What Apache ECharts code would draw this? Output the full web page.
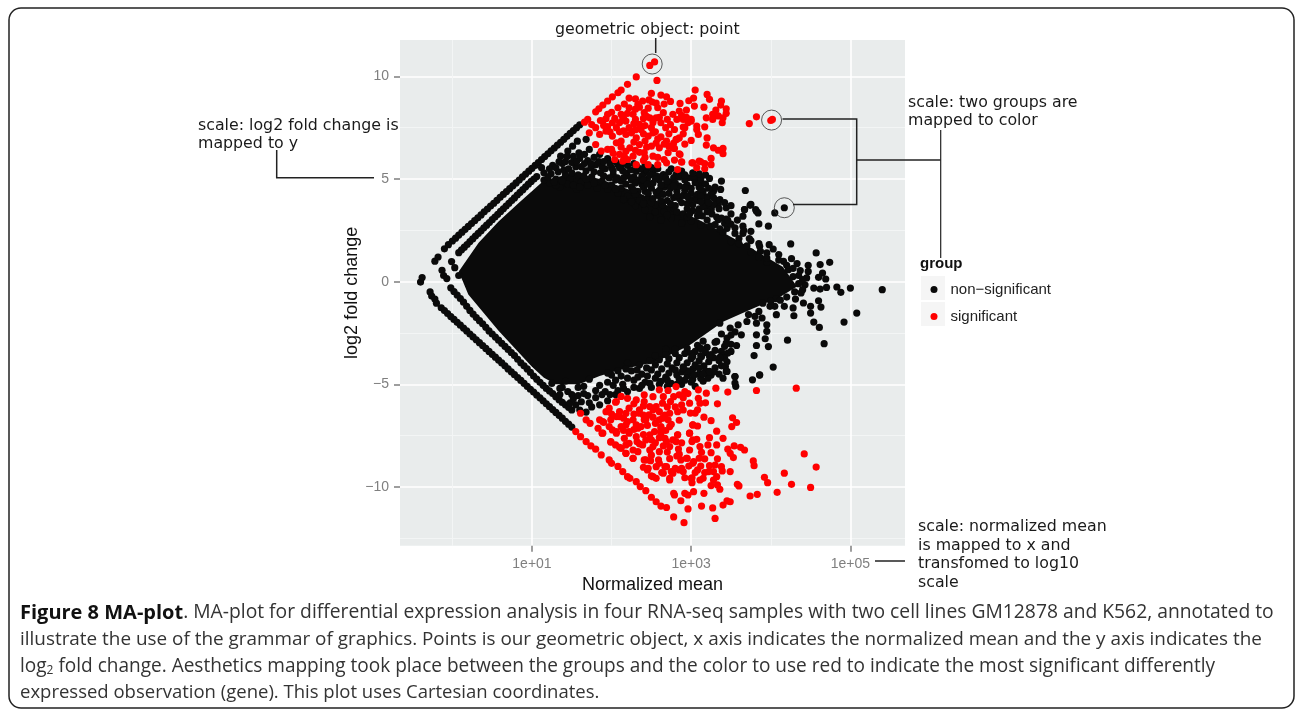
<!DOCTYPE html>
<html><head><meta charset="utf-8">
<style>html,body{margin:0;padding:0;background:#fff}#c{width:1295px;height:711px}</style>
<script src="https://cdn.jsdelivr.net/npm/echarts@6/dist/echarts.min.js"></script>
</head><body><div id="c"></div>
<script>
// x values are log10(normalized mean), y values are log2 fold change
const xTickLabels = {1:'1e+01',3:'1e+03',5:'1e+05'};
const xMajor=[1,3,5], xMinor=[0,2,4];
const yMajor=[-10,-5,0,5,10], yMinor=[-12.5,-7.5,-2.5,2.5,7.5];
// outline of the region where points overlap to solid black
const denseCoreOutline=[[0.08,0.49],[0.33,1.9],[0.58,2.93],[0.84,3.85],[1.15,4.93],[1.53,5.3],[1.85,5],[2.35,4.3],[2.77,3.6],[3.1,3],[3.4,2.4],[3.74,1.66],[4.15,0.73],[4.33,-0.24],[4.12,-0.73],[3.74,-1.37],[3.4,-1.95],[2.98,-3.1],[2.56,-3.9],[2.1,-4.3],[1.85,-4.6],[1.59,-5],[1.3,-5],[1.15,-4.68],[1,-4.15],[0.58,-2.39],[0.2,-0.63]];
const blackBands=[[0,1.98],[.08,2.27],[.16,2.55],[.24,2.83],[.32,3.11],[.4,3.4],[.48,3.68],[.56,3.96],[.64,4.25],[.72,4.53],[.8,4.81],[.88,5.1],[.96,5.38],[1.04,5.66],[1.12,5.95],[1.2,6.23],[1.28,6.51],[1.36,6.79],[1.44,7.08],[1.52,7.36],[1.6,7.64],
[.04,2.12],[.12,2.41],[.2,2.69],[.28,2.97],[.36,3.25],[.44,3.54],[.52,3.82],[.6,4.11],[.68,4.39],[.76,4.67],[.84,4.95],[.92,5.24],[1,5.52],[1.08,5.8],[1.16,6.09],[1.24,6.37],[1.32,6.65],[1.4,6.93],[1.48,7.22],[1.56,7.5],
[.08,1.41],[.15,1.68],[.22,1.95],[.29,2.22],[.36,2.48],[.43,2.75],[.5,3.02],[.57,3.28],[.64,3.55],[.71,3.82],[.78,4.08],[.85,4.35],[.92,4.62],[.99,4.88],[1.06,5.12],
[.115,1.55],[.185,1.81],[.255,2.08],[.325,2.35],[.395,2.62],[.465,2.88],[.535,3.15],[.605,3.42],[.675,3.68],[.745,3.95],[.815,4.22],[.885,4.48],[.955,4.75],[1.025,5],
[-.14,-1.27],[-.06,-1.55],[.02,-1.84],[.1,-2.12],[.18,-2.4],[.26,-2.69],[.34,-2.97],[.42,-3.25],[.5,-3.54],[.58,-3.82],[.66,-4.1],[.74,-4.39],[.82,-4.67],[.9,-4.95],[.98,-5.24],[1.06,-5.52],[1.14,-5.8],[1.22,-6.09],[1.3,-6.37],[1.38,-6.65],[1.46,-6.94],
[-.1,-1.41],[-.02,-1.7],[.06,-1.98],[.14,-2.26],[.22,-2.55],[.3,-2.83],[.38,-3.11],[.46,-3.4],[.54,-3.68],[.62,-3.96],[.7,-4.25],[.78,-4.53],[.86,-4.81],[.94,-5.1],[1.02,-5.38],[1.1,-5.66],[1.18,-5.95],[1.26,-6.23],[1.34,-6.51],[1.42,-6.8],[1.5,-7.08],
[-.02,-.3],[.06,-.65],[.14,-1],[.22,-1.4],[.3,-1.75],[.38,-2.05],[.46,-2.4],[.54,-2.7],[.62,-3],[.7,-3.3],[.78,-3.6],[.86,-3.95],[.94,-4.25],[1.02,-4.6],[1.1,-4.9],[1.18,-5.2],[1.26,-5.45],[1.34,-5.75],[1.42,-6],[1.5,-6.25],
[.02,-.48],[.1,-.82],[.18,-1.2],[.26,-1.58],[.34,-1.9],[.42,-2.22],[.5,-2.55],[.58,-2.85],[.66,-3.15],[.74,-3.45],[.82,-3.78],[.9,-4.1],[.98,-4.42],[1.06,-4.75],[1.14,-5.05],[1.22,-5.32],[1.3,-5.6],[1.38,-5.88],[1.46,-6.12],
[-.1,1.6],[-.05,1.8],[-.22,1],[-.18,1.2],[-.4,-.02],[-.38,.2],[-.28,-.5],[-.26,-.7],[-.22,-.85],[-.2,-1.05],[-.13,.55],[-.11,.3],[-.07,.15],[-.01,.98],[.03,.68],[.08,.3]];
const blackUpper=[[1.57,6.84],[1.68,6.93],[1.51,6.6],[1.45,6.36],[1.36,6.11],[1.26,5.66],[1.15,5.3],[1.38,5.75],[1.59,6.27],[1.72,6.44],[1.85,6.2],[1.95,5.99],[2.08,5.7],[2.2,5.66],[2.31,5.38],[2.41,5.3],[2.52,5.38],[2.65,5.22],[2.81,5.22],[2.88,5.38],[2.96,5.06],[3.07,5.06],[3.02,5.06],[3.23,5.03],[3.38,4.9],[3.13,4.8],[3.37,4.49],[3.28,4.4],[3.19,4.13],[3.15,3.84],[3.36,4],[3.34,3.76],[3.44,3.6],[3.25,3.55],[3.68,4.44],[3.67,3.51],[3.75,3.76],[3.81,3.51],[3.84,3.35],[3.65,3.19],[4.05,3.35],
[1.3,5],[1.42,5.2],[1.55,5.6],[1.68,5.4],[1.8,5.7],[1.92,5.5],[2.02,5.2],[2.14,5.4],[2.28,5.1],[2.45,5],[2.6,4.95],[2.75,4.85],[2.95,4.7],[3.1,4.6],[1.22,4.8],[1.35,4.6],[1.48,5],[1.62,4.85],[1.75,5.1],[1.88,4.9],[2,4.7],[2.12,4.9],[2.25,4.6],[2.38,4.75],[2.5,4.55],[2.66,4.6],[2.82,4.4],[3,4.3],[3.15,4.4],[1.7,5.9],[1.5,5.8],[1.6,6],
[1.95,4.5],[2.08,4.3],[2.2,4.15],[2.33,4.4],[2.46,4.1],[2.58,4.2],[2.7,3.95],[2.85,4.05],[2.95,3.8],[3.08,3.95],[3.2,3.7],[2.3,3.7],[2.42,3.5],[2.55,3.75],[2.66,3.4],[2.78,3.6],[2.9,3.3],[3.02,3.45],[3.14,3.2],[3.26,3.3],[3.38,3.1],[3.5,3.3],[2.48,3.15],[2.62,3],[2.75,3.1],[2.88,2.85],[3,2.95],[3.12,2.75],[3.24,2.7],[3.45,2.6],[3.55,2.35],[3.6,2.1],[3.75,2],[3.85,1.85],[3.4,2.4],
[1.4,5.45],[1.58,5.2],[1.74,5.55],[1.86,5.3],[2,5.55],[2.07,5.05],[2.2,5.15],[2.34,4.95],[2.52,4.8],[2.68,4.75],[2.85,4.65],[1.15,4.95],[1.3,4.7],[1.45,4.75],[1.56,4.5],[1.7,4.7],[1.82,4.55],[1.97,5.05],[2.12,4.55],[2.3,4.25],[2.42,4.4],[2.56,4.35],[2.72,4.3],[2.9,4.2],[3.05,4.05],[2.35,3.95],[2.5,3.85],[2.64,3.75],[2.8,3.7],[2.95,3.55],[3.1,3.55],[3.25,3.5],
[1.24,5.25],[1.33,5.35],[1.46,5.5],[1.5,5.3],[1.62,5.6],[1.65,5.15],[1.78,5.35],[1.84,5.85],[1.9,5.15],[1.98,5.75],[2.05,5.85],[2.12,5.65],[2.18,5.3],[2.24,5.45],[2.32,5.6],[2.38,5.15],[2.44,5.45],[2.48,5.2],[2.58,5.5],[2.62,5.12],[2.72,5.35],[2.78,5.05],[2.85,5.1],[2.92,4.95],[3.05,4.82],[3.12,5],[3.18,4.75],[3.3,4.6],[3.25,4.25],[3.32,3.95],[3.42,3.85],[3.5,3.7],
[1.2,5.1],[1.28,4.85],[1.38,4.9],[1.52,4.7],[1.6,4.6],[1.68,5],[1.78,4.8],[1.92,4.7],[2.05,4.5],[2.18,4.75],[2.28,4.45],[2.4,4.6],[2.46,4.3],[2.6,4.45],[2.74,4.55],[2.78,4.1],[2.92,4.45],[3.08,4.25],[3.2,4.05],[3.12,4.15],[2.15,4],[2.25,3.9],[2.4,3.8],[2.52,4.05],[2.62,3.95],[2.74,3.8],[2.88,3.85],[3.02,3.75],[3.15,3.65],[3.28,3.75],[2.55,3.4],[2.7,3.25],[2.82,3.4],[2.95,3.15],[3.08,3.2],[3.2,3],[3.32,3.15],[3.44,3.05],[3.42,2.85],[3.58,3],[3.65,2.35],[3.75,2.45],[3.5,2.8],
[1.12,5.55],[1.22,5.5],[1.3,5.55],[1.34,5.85],[1.42,5.85],[1.44,6.1],[1.52,6.1],[1.56,5.85],[1.66,5.75],[1.66,6.2],[1.74,5.75],[1.78,6.05],[1.88,5.6],[1.9,5.85],[2.02,5.4],[2.1,5.55],[2.16,5.85],[2.28,5.75],[2.36,5.5],[2.42,5.65],[2.5,5.55],[2.56,5.15],[2.68,5.05],[2.75,5.5],[2.92,5.2],[3.02,5.3],[3.1,5.25],[3.18,5.2],[2.25,4.95],[2.4,4.95],[2.55,5],[2.7,4.9],[2.8,4.8],[3,4.55],[3.12,4.5],[3.22,4.55],[2.62,4.7],[2.78,4.65],[2.92,4.6],[2.45,4.75],[2.3,4.8],[2.15,5.05],[2.05,4.95],[2.65,4.25],[2.82,4.2],[2.98,4],[3.12,3.9],[3.22,3.85],[2.95,4.15],[3.28,4.1],[3.35,3.55],[3.1,3.4],[2.98,3.3],[3.2,3.4]];
const blackLower=[[1.25,-4.95],[1.38,-5.15],[1.5,-5.5],[1.62,-5.85],[1.75,-6.1],[1.68,-6.35],[1.55,-6],[1.85,-6],[1.95,-5.8],[2.05,-5.5],[2.2,-5.35],[2.35,-5.2],[2.5,-5.15],[2.6,-5],[2.75,-4.95],[2.88,-5],[3,-4.9],[3.15,-4.85],[3.05,-5.1],[1.42,-4.85],[1.58,-5.15],[1.7,-5.55],[1.8,-5.3],[1.92,-5.35],[2.02,-5.05],[2.14,-5],[2.28,-4.8],[2.42,-4.9],[2.55,-4.7],[2.68,-4.65],[2.82,-4.55],[2.95,-4.6],[3.1,-4.5],[3.25,-4.55],[3.4,-4.7],
[2,-4.55],[2.12,-4.6],[2.25,-4.35],[2.38,-4.5],[2.5,-4.3],[2.63,-4.25],[2.76,-4.2],[2.9,-4.15],[3.02,-4.25],[3.16,-4.1],[3.3,-4.2],[2.2,-3.95],[2.35,-4.05],[2.48,-3.85],[2.6,-3.8],[2.72,-3.75],[2.85,-3.7],[3,-3.75],[3.12,-3.6],[3.28,-3.7],[3.38,-3.4],[2.68,-3.3],[2.8,-3.3],[2.95,-3.25],[3.08,-3.1],[3.2,-3.2],[3.3,-2.95],[3.45,-2.75],[3.55,-2.45],[3.15,-2.9],[1.35,-5.5],[1.48,-5.9],[1.6,-6.25],[3.86,-4.54],[3.77,-4.78],[3.55,-4.62],[3.56,-5.1],[3.55,-4.94],[3.44,-4.37],[3.21,-4.7],
[1.35,-5.2],[1.45,-5.35],[1.52,-5.7],[1.58,-5.55],[1.65,-5.45],[1.72,-5.9],[1.8,-5.65],[1.88,-5.5],[1.98,-5.5],[2.08,-5.3],[2.15,-5.2],[2.28,-5.15],[2.38,-5.05],[2.48,-4.95],[2.62,-4.85],[2.7,-5.1],[2.82,-5],[2.92,-4.8],[3.02,-4.75],[3.12,-4.7],[3.22,-4.4],[3.35,-4.5],[1.65,-5.1],[1.72,-4.75],[1.85,-5.05],[1.95,-4.9],[2.05,-4.8],[2.2,-4.7],[2.33,-4.65],[2.45,-4.6],[2.58,-4.5],[2.72,-4.45],[2.88,-4.4],[3.05,-4.05],[3.18,-4.35],[1.95,-4.45],[2.08,-4.35],[2.18,-4.25],[2.32,-4.3],[2.44,-4.2],[2.55,-4.05],[2.7,-4],[2.82,-3.95],[2.95,-3.95],[3.1,-3.85],[3.22,-3.9],[3.35,-3.85],[2.55,-3.6],[2.68,-3.55],[2.8,-3.5],[2.92,-3.5],[3.05,-3.4],[3.18,-3.45],[3.3,-3.35],[3.42,-3.15],[3.5,-3.05],[3.38,-2.55],[3.5,-2.6],
[2.7,-4.8],[2.85,-4.75],[3,-4.45],[3.15,-4.5],[3.28,-4.4],[3.38,-4.1],[3.45,-3.9],[2.95,-4.35],[2.8,-4.3],[3.1,-4.2],[3.25,-3.55],[3.12,-3.25],[3,-3.5],[3.4,-3.6],[3.5,-3.4]];
const blackRight=[[5.4,-.39],[5,-.31],[4.88,-.52],[4.83,-.26],[5.08,-1.53],[4.92,-1.97],[4.67,-3.02],[4.61,-2.23],[4.54,-1.97],[4.21,-2.85],[4.03,-4.16],[3.86,-4.55],[4.74,.94],[4.57,1.4],[4.25,1.84],[4.62,.83],[4.47,.8],[4.65,.42],[4.69,.13],[4.6,.21],[4.47,.5],[4.37,.54],[4.33,.88],[4.26,1.12],[4.45,.18],[4.43,-.15],[4.54,-.31],[4.7,-.28],[4.62,-.36],[4.4,-.39],[4.6,-.93],[4.63,-1.24],[4.5,-1.2],[4.5,-1.53],[4.41,-1.04],[4.31,-.85],[4.28,-1.28],[4.29,-1.66],[4.17,-1.2],[4.05,-1.2],[4.07,-1.61],[3.99,-1.2],[4.07,-.83],[3.97,2.7],[3.85,2.81],[3.82,3.43],[3.74,3.72],[3.67,3.51],[3.65,2.7],[3.66,2.5],[3.46,2.99],[3.34,3.02],[3.3,2.78],[3.36,2.57],[3.55,2.62],[3.73,2.1],[3.98,1.8],[3.86,1.72],[3.87,1.48],[4.03,1.59],[4.1,1.32],[4.16,.99],[4.22,.58],[3.95,1.4],[3.8,-1.69],[3.89,-1.77],[3.95,-2.1],[3.95,-2.42],[3.82,-2.02],[3.82,-2.59],[3.93,-2.78],[3.82,-3.11],[3.97,-3.16],[3.79,-3.6],[3.57,-3.11],[3.46,-3.48],[3.42,-3.72],[3.36,-3.69],[3.43,-4.13],[3.45,-4.37],[3.55,-4.62],[3.23,-4.37],[3.23,-3.64],[3.13,-3.64],[3.63,-2.59],[3.59,-2.1],[3.7,-1.94],[3.49,-2.26],[3.44,-2.99],[3.32,-2.91],[3.36,-2.02],[3.02,-3.64],[2.9,-4.21],[3.04,-4.54],[4.17,3.6],
[4.2,.8],[4.1,1.05],[4.28,.65],[4.35,.3],[4.28,.25],[4.4,.1],[4.35,-.1],[4.3,-.5],[4.38,-.55],[4.2,-.75],[4.12,-.9],[4,-.95],[3.9,-1.05],[3.85,-1.45],[3.72,-1.6],[3.95,.95],[3.85,1.2],[3.75,1.45],[3.7,1.75],[3.6,1.85],[3.5,1.95],[3.95,1.15]];
const redUpper=[[2.48,10.53],[2.54,10.7],[2.31,9.97],[2.57,9.8],[2.2,9.61],[2.12,9.33],[2.08,9.2],[2.01,9],[1.95,8.8],[1.89,8.6],[1.84,8.42],[1.8,8.27],[1.7,7.9],[1.66,7.77],[2.5,9.17],[2.62,9.09],[2.69,9],[2.74,8.78],[3.05,9.33],[3.03,8.94],[2.97,8.81],[3.04,8.55],[2.86,8.68],[2.85,8.31],[2.94,8.36],[2.22,8.94],[2.39,8.8],[2.33,8.63],[2.51,8.75],[2.58,8.47],[2.08,8.47],[2.22,8.47],[2.41,8.23],[2.27,8.15],[2.12,8.15],[1.93,7.94],[1.89,7.82],[2.01,7.74],[2.18,7.82],[2.35,7.66],[2.48,7.98],[2.56,7.98],[2.65,8.23],[2.77,8.15],[2.9,7.9],[3,7.82],[3.07,7.58],[2.92,7.5],[2.79,7.41],[2.62,7.74],[2.5,7.5],[2.37,7.41],[2.22,7.5],[2.06,7.5],[1.93,7.33],[1.8,7.5],[1.72,7.25],[1.85,7.17],[2.01,7.09],[2.18,7.17],[2.31,7],[2.46,7.09],[2.58,6.96],[2.69,6.85],[2.81,6.93],[3,6.88],[3.09,7.17],[1.8,6.68],[1.95,6.44],[2.06,6.76],[2.23,6.52],[2.35,6.68],[2.5,6.6],[2.41,6.28],[2.6,6.52],[2.79,6.49],[2.86,6.19],[2.71,6.28],[1.87,6.36],[2.1,6.2],[2.27,6.11],[2.52,6.11],[2.04,5.95],[2.14,5.87],[2.31,5.7],[2.46,5.7],[2.58,5.7],[2.69,5.79],[2.79,5.92],[2.88,5.82],[3.02,5.79],[3.1,5.87],[2.83,5.46],[3.07,5.55],
[3.2,9.12],[3.23,8.88],[3.38,8.8],[3.37,8.6],[3.16,8.5],[3.44,8.42],[3.31,8.36],[3.44,8.2],[3.27,8.15],[3.19,7.98],[3.34,8.07],[3.4,7.98],[3.39,7.74],[3.27,7.9],[3.82,8.03],[3.73,7.7],[4.02,7.9],[4,7.85],[3.17,7.54],[3.07,7.41],[3,7.9],[3.2,7],[3.19,6.65],[3.28,6.52],[3.34,6.4],[3.4,6.49],[3.4,6.23],[3.25,6],[3.25,5.7],[3.17,5.5],[3.17,5.75],[3.12,5.84],[3.01,5.79],[2.88,5.84],[2.82,6.93],[2.77,6.52],[2.85,6.23],[2.9,7.53],[2.96,7.74],
[2.15,7.95],[2.3,7.9],[2.42,7.6],[2.55,7.3],[2.68,7.5],[2.12,6.85],[2.28,6.8],[2.42,6.85],[2.18,6.35],[2.35,6.3],[1.98,7.3],[2.1,7.3],[2.3,8.4],[2.46,8.45],[2.66,8.65],[2.72,7.2],[2.9,7.2],
[1.95,7.55],[2.04,7.95],[2.1,7.75],[2.14,8],[2.2,8.2],[2.28,7.7],[2.3,7.4],[2.4,7.95],[2.44,8.05],[2.52,7.75],[2.6,8],[2.7,7.9],[2.74,7.65],[2.82,7.9],[2.88,8.1],[2.94,8],[2.15,7.35],[2.25,7.25],[2.4,7.2],[2.52,7.25],[2.62,7.05],[2.78,6.75],[2.72,6.6],[2.56,6.75],[2.44,6.55],[2.3,6.4],[2.12,6.55],[2,6.45],[2.02,6.25],[2.2,5.95],[2.4,5.9],[2.58,6.05],[2.66,5.95],[2.42,6.05],[2.16,6.1],[2.85,7],[2.66,6.7],[2.92,6.7],[2.35,8.5],[2.47,8.85],[2.56,8.7],[2.16,8.65],[2.3,8.9],[2,8.25],[1.95,8.15],[1.9,7.6],[1.75,7.65],[1.86,7.85]];
const redLower=[[4.32,-5.19],[3.82,-5.3],[3.46,-5.38],[3.33,-5.95],[3.31,-5.19],[3.19,-5.43],[3.09,-5.27],[3.09,-5.68],[3.11,-5.92],[3.08,-6.24],[2.98,-5.92],[2.99,-6.4],[2.92,-5.35],[2.85,-5.51],[2.81,-5.11],[2.71,-5.3],[2.6,-5.27],[2.74,-5.84],[2.88,-6],[2.83,-6.33],[2.64,-5.92],[2.56,-6.08],[2.48,-6.08],[2.41,-5.84],[2.31,-5.76],[2.2,-5.68],[2.12,-5.59],[2.05,-5.87],[1.97,-6.16],[2.1,-6.33],[2.22,-6.16],[2.35,-6.24],[2.47,-6.49],[2.6,-6.33],[2.73,-6.41],[2.6,-6.73],[2.71,-6.73],[2.73,-7.06],[2.62,-7.06],[2.62,-7.38],[2.54,-7.3],[2.41,-6.73],[2.31,-6.98],[2.2,-6.81],[2.1,-6.57],[1.99,-6.73],[1.89,-6.81],[2.12,-7.06],[2.22,-7.38],[2.37,-7.06],[2.48,-7.46],[2.01,-7.22],[1.89,-7.38],[2.06,-7.38],[2.31,-7.55],
[3.16,-6.6],[3.25,-6.77],[3.52,-6.63],[3.57,-6.86],[3.51,-7.06],[3.02,-6.98],[3.08,-7.03],[2.98,-7.38],[3.32,-7.28],[3.23,-7.6],[3.4,-7.63],[3.07,-7.68],[3.01,-7.79],[2.83,-7.46],[2.77,-7.71],[2.67,-7.63],[2.73,-8.03],[2.84,-8.15],[2.98,-8.2],[3.11,-8.03],[3.21,-7.95],[3.32,-7.95],[3.25,-8.33],[3.13,-8.31],[2.6,-8.28],[2.48,-8.2],[2.35,-7.9],[2.27,-8.2],[2.18,-7.95],[2.1,-8.07],[1.99,-7.82],[2.27,-8.6],[2.18,-8.36],
[3.54,-8],[3.62,-8.07],[3.67,-8.2],[3.46,-8.16],[3.49,-8.36],[3.53,-8.57],[4.42,-8.39],[4.57,-9.03],[3.78,-8.73],[3.79,-8.96],[4.17,-9.33],[3.92,-9.53],[3.96,-9.79],[4.26,-9.87],[4.5,-10.02],[4.08,-10.26],[3.83,-10.36],[3.74,-10.44],[3.49,-10.72],[3.45,-10.68],[3.4,-10.88],[3.27,-11.02],[3.3,-11.53],[3.13,-10.93],[2.96,-11.07],[2.87,-10.67],[2.78,-11.46],[2.91,-11.74],[2.79,-10.39],[2.78,-10.31],[2.92,-10.31],[2.96,-10.39],[3.03,-10.23],[3.16,-10.31],[3.36,-10.11],[3.33,-9.9],[3.25,-9.93],[3.28,-9.66],[3.32,-9.5],[3.28,-9.25],[3.39,-9.22],[3.49,-9.25],[3.38,-9.01],[3.33,-8.63],[3.3,-8.93],[3.23,-8.96],[3.17,-8.63],[3.17,-9.3],[3.12,-8.98],[3.08,-9.17],[3.03,-8.77],[2.97,-8.98],[2.95,-8.6],[2.87,-8.68],[2.82,-8.49],[2.73,-8.62],[2.88,-9.09],[2.8,-9.09],[2.75,-9.25],[2.67,-9.01],[2.63,-9.3],[2.73,-9.58],[2.56,-9.58],[2.5,-9.46],[2.45,-9.17],[2.4,-9.04],[2.56,-9.01],[2.49,-8.72],[2.43,-8.68],[2.59,-8.68],[2.92,-9.55],[3.01,-9.55],[3.01,-9.79],[3.11,-9.66],[3.15,-9.58],[3.58,-9.87],[3.6,-9.95],
[1.55,-7.3],[1.61,-7.55],[1.68,-7.79],[1.74,-8],[1.8,-8.16],[1.87,-8.44],[1.97,-8.68],[2,-8.85],[2.08,-9],[2.14,-9.25],[2.2,-9.5],[2.23,-9.58],[2.31,-9.74],[2.36,-9.98],[2.43,-10.18],[2.5,-10.5],[2.56,-10.72],[2.62,-10.93],[2.69,-11],
[1.61,-6.41],[1.68,-6.73],[1.73,-6.9],[1.83,-7.14],[1.88,-7.38],[1.99,-7.79],[2.05,-7.95],[2.12,-8.12],[2.18,-8.36],[2.27,-8.6],[1.85,-6.73],[1.9,-6.85],[1.97,-7.06],[2.06,-7.3],[2.16,-7.63],[2.22,-7.87],[2.33,-8.28],[2.41,-8.68],[2.46,-9.09],[2.52,-9.5],[2.65,-9.33],[2.73,-9.66],
[1.93,-6.33],[2.06,-6.57],[2.18,-6.41],[2.27,-6.73],[2.35,-6.41],[2.43,-6.73],[2.33,-7.14],[2.22,-7.3],[2.18,-6.98],[2.06,-5.84],[2.41,-5.51],[2.52,-6.24],[2.64,-6.65],[2.62,-7.14],[2.43,-7.71],[2.52,-8.03],[2.39,-7.95],[2.83,-7.46],[2.81,-7.79],[2.69,-7.79],[2.98,-7.38],[3.02,-7.71],[3.02,-6.98],[3.02,-8.85],[2.94,-8.6],[2.85,-9.17],[3,-9.58],[2.69,-9.01],[2.77,-9.33],
[2,-6.45],[2.15,-6.65],[2.28,-6.45],[2.4,-6.5],[2.52,-6.6],[2.55,-6.9],[2.45,-7],[2.28,-7.2],[2.15,-7.25],[2.28,-5.95],[2.4,-6.05],[2.52,-5.6],[2.65,-5.6],[2.78,-5.6],[2.9,-5.65],[2.96,-5.45],[2.7,-6.1],[2.8,-6.1],[2.9,-6.25],[2.67,-6.5],[2.75,-6.95],[2.85,-6.75],[2.68,-7.25],[2.5,-7.7],[2.4,-7.45],[2.6,-7.6],[2.55,-7.85],[2.7,-8.3],[2.32,-7.8],[2.5,-8.45],[2.65,-8],[2.88,-7.85],[3.05,-6.4],[3.18,-5.9],[2.6,-8.85],[2.85,-8.4],[3.1,-8.6],[3.22,-9.25],[3.05,-9.3],[2.9,-9.25]];
const circledPoints=[[2.51,10.6],[4.01,7.87],[4.17,3.6]];
const legendNames=['non\u2212significant','significant'];
const captionLines=[
 ['Figure 8 MA-plot','. MA-plot for differential expression analysis in four RNA-seq samples with two cell lines GM12878 and K562, annotated to'],
 ['illustrate the use of the grammar of graphics. Points is our geometric object, x axis indicates the normalized mean and the y axis indicates the'],
 ['log','2',' fold change. Aesthetics mapping took place between the groups and the color to use red to indicate the most significant differently'],
 ['expressed observation (gene). This plot uses Cartesian coordinates.']];

const chart=echarts.init(document.getElementById('c'),null,{renderer:'canvas'});
const gridL=400,gridT=40,gridR=905,gridB=545.7;
const xMin=-0.658,xMax=5.686,yMin=-12.86,yMax=11.77;
const GREY='#7f7f7f',ANNO='DejaVu Sans',HELV='Liberation Sans',CAP='Open Sans';
const line=(pts,w,c)=>({type:'polyline',z:50,shape:{points:pts},style:{stroke:c||'#222',lineWidth:w||1.5,fill:null}});
const txt=(x,y,t,f)=>({type:'text',z:50,x,y,style:Object.assign({text:t,font:'15.8px "'+ANNO+'"',fill:'#1a1a1a',verticalAlign:'middle',lineHeight:18},f||{})});
const dot=(name,data,color,z)=>({name,type:'scatter',xAxisIndex:1,yAxisIndex:1,data,symbolSize:7.2,z:z,silent:true,animation:false,large:false,itemStyle:{color,opacity:1},emphasis:{disabled:true}});
const capGraphics=[
 {type:'text',z:50,x:20,y:613,style:{rich:{b:{font:'bold 20px "'+CAP+'"',fill:'#111'},n:{font:'19.3px "'+CAP+'"',fill:'#333'}},text:'{b|'+captionLines[0][0]+'}{n|'+captionLines[0][1]+'}',verticalAlign:'middle'}},
 {type:'text',z:50,x:20,y:640,style:{font:'18.9px "'+CAP+'"',fill:'#333',text:captionLines[1][0],verticalAlign:'middle'}},
 {type:'text',z:50,x:20,y:667,style:{rich:{n:{font:'19.05px "'+CAP+'"',fill:'#333'},s:{font:'12px "'+CAP+'"',fill:'#333',padding:[7,0,0,0]}},text:'{n|'+captionLines[2][0]+'}{s|'+captionLines[2][1]+'}{n|'+captionLines[2][2]+'}',verticalAlign:'middle'}},
 {type:'text',z:50,x:20,y:693,style:{font:'18.5px "'+CAP+'"',fill:'#333',text:captionLines[3][0],verticalAlign:'middle'}}];
chart.setOption({
 animation:false,
 grid:{left:gridL,top:gridT,width:gridR-gridL,height:gridB-gridT,show:true,backgroundColor:'#e9ecec',borderWidth:0,containLabel:false},
 xAxis:[
  {type:'value',min:xMin,max:xMax,axisLine:{show:false,onZero:false},axisTick:{show:false,customValues:xMinor},axisLabel:{show:false,customValues:xMinor},splitLine:{show:true,lineStyle:{color:'#f3f5f5',width:1}}},
  {type:'value',min:xMin,max:xMax,position:'bottom',name:'Normalized mean',nameLocation:'middle',nameGap:27,nameTextStyle:{fontFamily:HELV,fontSize:18,color:'#111'},
   axisLine:{show:false,onZero:false},axisTick:{show:true,length:6,customValues:xMajor,lineStyle:{color:GREY,width:1.5}},
   axisLabel:{customValues:xMajor,formatter:v=>xTickLabels[v],color:GREY,fontFamily:HELV,fontSize:14,margin:11},splitLine:{show:true,lineStyle:{color:'#ffffff',width:1.6}}}],
 yAxis:[
  {type:'value',min:yMin,max:yMax,axisLine:{show:false,onZero:false},axisTick:{show:false,customValues:yMinor},axisLabel:{show:false,customValues:yMinor},splitLine:{show:true,lineStyle:{color:'#f3f5f5',width:1}}},
  {type:'value',min:yMin,max:yMax,position:'left',name:'log2 fold change',nameLocation:'middle',nameGap:39,nameRotate:90,nameTextStyle:{fontFamily:HELV,fontSize:18,color:'#111'},
   axisLine:{show:false,onZero:false},axisTick:{show:true,length:6,customValues:yMajor,lineStyle:{color:GREY,width:1.5}},
   axisLabel:{customValues:yMajor,formatter:v=>String(v).replace('-','\u2212'),color:GREY,fontFamily:HELV,fontSize:14,margin:11},splitLine:{show:true,lineStyle:{color:'#ffffff',width:1.6}}}],
 legend:{data:legendNames.map(n=>({name:n,icon:'circle'})),orient:'vertical',left:925.5,top:277,itemWidth:7,itemHeight:7,itemGap:12,textStyle:{fontFamily:HELV,fontSize:15,color:'#222',padding:[0,0,0,8]},selectedMode:false},
 series:[
  {type:'custom',xAxisIndex:1,yAxisIndex:1,z:2,silent:true,data:denseCoreOutline,encode:{x:0,y:1},
   renderItem:(p,api)=>p.dataIndex===0?{type:'polygon',shape:{points:denseCoreOutline.map(d=>api.coord(d))},style:{fill:'#0a0a0a'}}:null},
  dot(legendNames[0],[...blackBands,...blackUpper,...blackLower,...blackRight],'#0a0a0a',3),
  dot(legendNames[1],[...redUpper,...redLower],'#ff0000',4),
  {type:'scatter',xAxisIndex:1,yAxisIndex:1,data:circledPoints,symbolSize:20,z:5,silent:true,itemStyle:{color:'rgba(0,0,0,0)',borderColor:'#333',borderWidth:1}}
 ],
 graphic:[
  {type:'rect',z:-1,shape:{x:9,y:8,width:1285,height:700,r:12},style:{fill:null,stroke:'#222',lineWidth:1.5}},
  {type:'rect',z:1,shape:{x:921,y:276,width:24,height:24},style:{fill:'#f5f5f5'}},
  {type:'rect',z:1,shape:{x:921,y:302,width:24,height:24},style:{fill:'#f5f5f5'}},
  txt(920,264,'group',{font:'bold 15px "'+HELV+'"',fill:'#111'}),
  txt(555,30,'geometric object: point'),
  line([[655.7,38],[655.7,53]]),
  txt(198,135,'scale: log2 fold change is\nmapped to y'),
  line([[276.7,150],[276.7,177.7],[374,177.7]]),
  txt(908,112,'scale: two groups are\nmapped to color'),
  line([[782.5,119],[856.7,119],[856.7,204.5],[793,204.5]]),
  line([[856.7,160],[940.7,160]]),
  line([[940.7,130],[940.7,258]],1.2),
  txt(918,555,'scale: normalized mean\nis mapped to x and\ntransfomed to log10\nscale',{lineHeight:18.7}),
  line([[875,561],[905,561]]),
  ...capGraphics
 ]
});
</script></body></html>
